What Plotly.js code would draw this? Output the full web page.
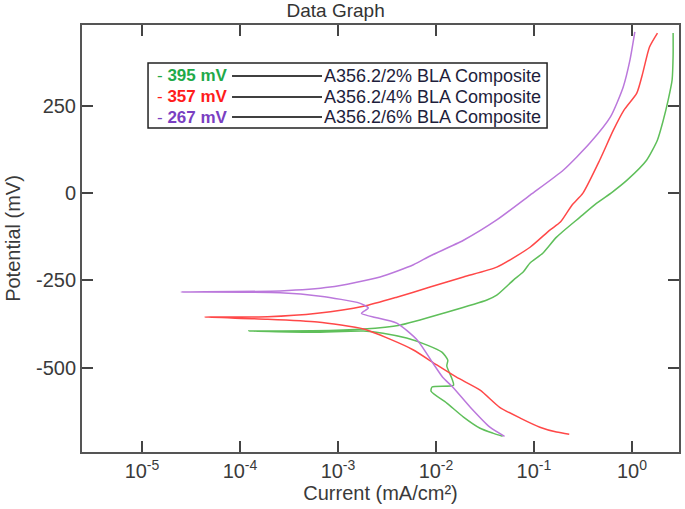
<!DOCTYPE html>
<html>
<head>
<meta charset="utf-8">
<script src="https://cdn.plot.ly/plotly-3.0.1.min.js"></script>
<style>html,body{margin:0;padding:0;background:#fff;}#chart{width:685px;height:509px;}</style>
</head>
<body>
<div id="chart"></div>
<script>
// ---- data (current in mA/cm², potential in mV) ----
const seriesNames = ['A356.2/2% BLA Composite', 'A356.2/4% BLA Composite', 'A356.2/6% BLA Composite'];
const corrosionLabels = ['395 mV', '357 mV', '267 mV'];

const greenCurrent = [4.79e-2, 3.80e-2, 2.82e-2, 1.91e-2, 1.29e-2, 8.91e-3, 9.12e-3, 1.51e-2, 1.45e-2, 1.29e-2, 1.32e-2, 1.15e-2, 8.13e-3, 5.01e-3, 2.88e-3, 1.82e-3, 5.50e-4, 1.23e-4,
  5.50e-4, 1.82e-3, 4.27e-3, 1.29e-2, 3.31e-2, 4.17e-2, 6.17e-2, 7.76e-2, 9.12e-2, 1.23e-1, 1.70e-1, 2.95e-1, 4.37e-1, 6.31e-1, 8.91e-1, 1.41, 1.82, 2.09, 2.34, 2.57, 2.63, 2.63];
const greenPotential = [-696, -687, -673, -641, -601, -567, -555, -550, -530, -495, -478, -455, -435, -415, -401, -395, -398, -395,
  -394, -389, -378, -341, -306, -292, -249, -226, -200, -172, -126, -69, -29, 3, 37, 94, 152, 209, 266, 324, 395, 458];

const redCurrent = [2.29e-1, 1.70e-1, 1.15e-1, 7.24e-2, 4.47e-2, 2.82e-2, 1.62e-2, 1.02e-2, 5.89e-3, 3.39e-3, 1.82e-3, 6.17e-4, 1.91e-4, 4.37e-5,
  1.91e-4, 6.17e-4, 1.82e-3, 3.98e-3, 8.71e-3, 1.91e-2, 4.17e-2, 9.12e-2, 1.45e-1, 1.86e-1, 2.45e-1, 3.16e-1, 4.68e-1, 6.46e-1, 8.32e-1, 1.12, 1.29, 1.51, 1.82];
const redPotential = [-690, -684, -670, -644, -613, -564, -527, -492, -449, -418, -389, -369, -361, -355,
  -354, -344, -324, -298, -269, -240, -212, -155, -106, -83, -34, 0, 94, 180, 238, 286, 344, 418, 458];

const purpleCurrent = [5.01e-2, 3.55e-2, 2.24e-2, 1.48e-2, 1.17e-2, 9.33e-3, 6.46e-3, 3.98e-3, 1.74e-3, 2.04e-3, 1.66e-3, 6.61e-4, 2.57e-4, 2.51e-5,
  2.57e-4, 8.32e-4, 2.69e-3, 5.89e-3, 8.71e-3, 1.91e-2, 4.17e-2, 9.12e-2, 2.00e-1, 3.72e-1, 6.03e-1, 8.13e-1, 9.55e-1, 1.07];
const purplePotential = [-696, -670, -613, -555, -527, -487, -421, -372, -344, -329, -315, -295, -285, -283,
  -280, -269, -240, -205, -180, -135, -77, -6, 66, 143, 218, 303, 381, 461];

const xTickVals = [1e-5, 1e-4, 1e-3, 1e-2, 1e-1, 1];
const xTickText = ['10<sup>-5</sup>', '10<sup>-4</sup>', '10<sup>-3</sup>', '10<sup>-2</sup>', '10<sup>-1</sup>', '10<sup>0</sup>'];
const yTickVals = [-500, -250, 0, 250];
const yTickText = ['-500', '-250', '0', '250'];

// ---- styling ----
const lineColors = ['#5fbf5a', '#ff4848', '#bb78dc'];
const labelColors = ['#1faa4a', '#ff1c1c', '#7a3fc2'];
const FONT = 'Liberation Sans, Arial, sans-serif';

const currents = [greenCurrent, redCurrent, purpleCurrent];
const potentials = [greenPotential, redPotential, purplePotential];

const traces = currents.map((c, i) => ({
  x: c, y: potentials[i], type: 'scatter', mode: 'lines', name: seriesNames[i],
  line: {color: lineColors[i], width: 1.5, shape: 'spline', smoothing: 0.6}, showlegend: false, hoverinfo: 'x+y+name'
}));

// legend box geometry (paper coords)
const boxX0 = 0.1106, boxX1 = 0.779, boxY0 = 0.759, boxY1 = 0.911;
const rowY = [0.8806, 0.8314, 0.7845];
const lineX0 = 0.2513, lineX1 = 0.402;

const shapes = [{type: 'rect', xref: 'paper', yref: 'paper', x0: boxX0, x1: boxX1, y0: boxY0, y1: boxY1,
  line: {color: '#222', width: 1.5}, fillcolor: '#fff'}];
const annotations = [];
rowY.forEach((y, i) => {
  shapes.push({type: 'line', xref: 'paper', yref: 'paper', x0: lineX0, x1: lineX1, y0: y, y1: y,
    line: {color: '#000', width: 1.4}});
  annotations.push({xref: 'paper', yref: 'paper', x: 0.1223, y: y, xanchor: 'left', yanchor: 'middle',
    showarrow: false, text: '- <b>' + corrosionLabels[i] + '</b>',
    font: {family: FONT, size: 17, color: labelColors[i]}});
  annotations.push({xref: 'paper', yref: 'paper', x: lineX1, y: y, xanchor: 'left', yanchor: 'middle',
    showarrow: false, text: seriesNames[i],
    font: {family: FONT, size: 18, color: '#1e1e3c'}});
});

const axisCommon = {
  showgrid: false, zeroline: false, showline: true, linecolor: '#555', linewidth: 2,
  mirror: 'ticks', ticks: 'inside', ticklen: 11, tickwidth: 2, tickcolor: '#444',
  tickfont: {family: FONT, size: 20, color: '#3a3a3a'}
};

const layout = {
  width: 685, height: 509,
  margin: {l: 82, r: 6, t: 25, b: 57},
  paper_bgcolor: '#fff', plot_bgcolor: '#fff',
  font: {family: FONT, color: '#333'},
  title: {text: 'Data Graph', x: 0.49, xanchor: 'center', y: 0.979, yanchor: 'middle',
    font: {family: FONT, size: 19, color: '#333'}},
  xaxis: Object.assign({}, axisCommon, {
    type: 'log', range: [-5.612, 0.48], tickmode: 'array', tickvals: xTickVals, ticktext: xTickText,
    title: {text: 'Current (mA/cm²)', font: {family: FONT, size: 20, color: '#3a3a3a'}, standoff: 2}
  }),
  yaxis: Object.assign({}, axisCommon, {
    range: [-741, 481], tickmode: 'array', tickvals: yTickVals, ticktext: yTickText,
    title: {text: 'Potential (mV)', font: {family: FONT, size: 20, color: '#3a3a3a'}, standoff: 10}
  }),
  shapes: shapes,
  annotations: annotations
};

Plotly.newPlot('chart', traces, layout, {displayModeBar: false, staticPlot: true});
</script>
</body>
</html>
